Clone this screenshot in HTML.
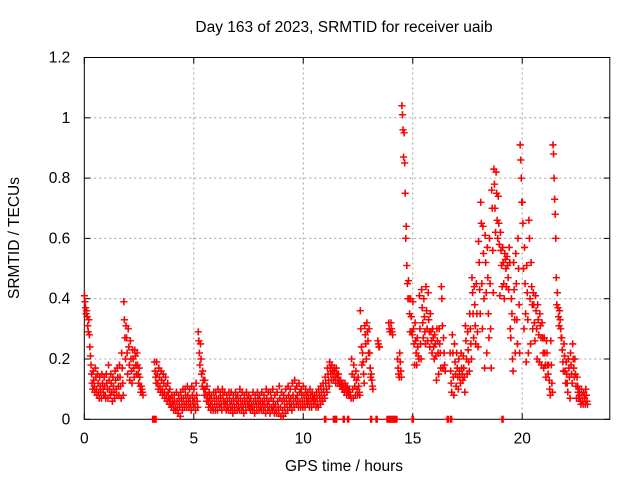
<!DOCTYPE html>
<html><head><meta charset="utf-8"><style>
body{margin:0;background:#fff;}
svg text{font-family:"Liberation Sans",sans-serif;font-size:15.5px;fill:#000;}
</style></head><body>
<svg id="chart" width="640" height="480" viewBox="0 0 640 480" xmlns="http://www.w3.org/2000/svg">
<rect width="640" height="480" fill="#fff"/>
<text x="344" y="32" text-anchor="middle">Day 163 of 2023, SRMTID for receiver uaib</text>
<text transform="translate(19,238) rotate(-90)" text-anchor="middle">SRMTID / TECUs</text>
<text x="344" y="471" text-anchor="middle">GPS time / hours</text>
<g id="grid"></g><g id="axes"></g><g id="marks"></g>
</svg>
<script>
const xTicks=[0,5,10,15,20];
const yTicks=[0,0.2,0.4,0.6,0.8,1.0,1.2];
const yTickLabels=["0","0.2","0.4","0.6","0.8","1","1.2"];
const startHour=0.0;
const srmtid=[
[.41,.39,.37,.35],[.36,.34,.31,.29],[.33,.28,.24,.21],[.18,.15,.12,.10],[.16,.13,.11,.09],[.17,.14,.10,.08],[.15,.12,.09,.07],[.14,.11,.09,.07],[.15,.12,.10,.08],[.14,.11,.08,.07],
[.15,.12,.10,.07],[.18,.13,.10,.08],[.15,.12,.09,.06],[.14,.11,.09,.07],[.16,.13,.10,.08],[.17,.14,.11,.08],[.18,.14,.11,.07],[.22,.17,.12,.08],[.39,.33,.27,.20],[.31,.27,.22,.15],
[.30,.24,.18,.13],[.26,.20,.16,.12],[.23,.20,.17,.14],[.23,.21,.18,.15],[.22,.18,.15,.12],[.17,.14,.11,.09],[.11,.10,.09,.08],null,null,null,
null,null,[.19,.16,.14,.12],[.19,.15,.12,.10],[.17,.14,.11,.09],[.16,.13,.10,.08],[.15,.12,.09,.07],[.14,.11,.08,.06],[.12,.09,.07,.05],[.10,.07,.05,.04],
[.08,.06,.05,.03],[.08,.06,.04,.03],[.09,.06,.04,.02],[.08,.06,.04,.01],[.09,.07,.05,.03],[.10,.07,.05,.04],[.10,.08,.06,.04],[.11,.08,.06,.04],[.10,.07,.05,.03],[.11,.08,.06,.04],
[.10,.07,.05,.03],[.12,.08,.06,.04],[.29,.26,.22,.18],[.25,.20,.15,.11],[.16,.13,.10,.08],[.13,.10,.08,.06],[.11,.08,.06,.04],[.09,.07,.05,.03],[.08,.06,.04,.03],[.09,.07,.05,.03],
[.09,.07,.05,.03],[.10,.07,.05,.04],[.09,.07,.05,.03],[.10,.08,.06,.04],[.09,.06,.05,.03],[.08,.06,.04,.03],[.09,.07,.05,.03],[.09,.06,.04,.02],[.08,.06,.04,.03],[.09,.07,.05,.03],
[.08,.06,.04,.03],[.10,.07,.05,.03],[.09,.06,.04,.02],[.08,.06,.05,.03],[.09,.07,.05,.04],[.08,.06,.04,.03],[.07,.05,.04,.03],[.09,.06,.04,.02],[.08,.06,.05,.03],[.09,.07,.05,.03],
[.08,.06,.04,.03],[.09,.06,.05,.03],[.08,.06,.04,.02],[.10,.07,.05,.03],[.09,.06,.04,.02],[.09,.07,.04,.03],[.10,.06,.04,.02],[.08,.05,.03,.02],[.09,.06,.04,.02],[.11,.07,.04,.01],
[.09,.06,.03,.01],[.08,.06,.04,.02],[.10,.07,.05,.03],[.11,.08,.06,.04],[.10,.07,.05,.03],[.12,.08,.06,.04],[.13,.10,.07,.05],[.11,.08,.06,.04],[.12,.09,.06,.04],[.10,.08,.06,.04],
[.11,.08,.06,.04],[.10,.08,.06,.05],[.09,.07,.06,.04],[.10,.08,.06,.04],[.09,.07,.06,.05],[.08,.07,.06,.04],[.09,.07,.05,.04],[.10,.08,.07,.05],[.11,.09,.07,.06],[.12,.10,.08,.07],
[.14,.12,.10,.09],[.17,.15,.13,.11],[.19,.17,.15,.13],[.18,.16,.15,.13],[.17,.16,.14,.12],[.17,.15,.14,.12],[.15,.13,.12,.11],[.13,.12,.11,.10],[.12,.11,.10,.09],[.12,.11,.10,.08],
[.11,.10,.09,.08],[.10,.09,.08,.07],[.20,.15,.10,.07],[.18,.14,.11,.08],[.16,.13,.10,.08],[.14,.11,.09,.08],[.36,.30,.24,.18],[.22,.19,.15,.12],[.31,.28,.25,.20],[.32,.29,.26,.22],
[.30,.22,.17,.14],[.15,.13,.11,.10],null,null,[.26,.25,.24,.24],null,null,null,null,[.32,.30,.29,.29],
[.32,.30,.29,.28],null,null,[.20,.17,.15,.14],[.22,.19,.16,.14],[1.04,1.01,.96,.87],[.95,.85,.75,.60],[.64,.51,.45,.40],[.46,.40,.35,.29],[.40,.34,.29,.28],
[.39,.30,.25,.18],[.32,.26,.22,.18],[.27,.24,.21,.20],[.41,.30,.25,.20],[.43,.37,.32,.27],[.40,.34,.29,.25],[.44,.36,.30,.26],[.42,.33,.29,.24],[.35,.29,.26,.22],[.30,.27,.24,.20],
[.28,.25,.21,.13],[.30,.26,.22,.15],[.30,.25,.22,.17],[.44,.40,.31,.17],[.27,.22,.18,.16],null,null,[.22,.16,.12,.09],[.28,.22,.14,.08],[.25,.19,.15,.11],
[.22,.17,.14,.10],[.20,.16,.14,.12],[.22,.17,.15,.13],[.21,.17,.14,.09],[.31,.26,.20,.15],[.29,.23,.19,.16],[.35,.30,.25,.20],[.47,.42,.35,.27],[.44,.38,.31,.25],[.45,.35,.29,.24],
[.59,.52,.43,.35],[.72,.65,.45,.30],[.64,.55,.40,.17],[.61,.52,.42,.22],[.57,.47,.35,.27],[.60,.45,.30,.17],[.76,.70,.56,.42],[.83,.78,.70,.62],[.82,.75,.66,.60],[.74,.65,.58,.41],
[.62,.56,.51,.44],[.57,.52,.45,.40],[.55,.53,.50,.44],[.54,.51,.47,.43],[.57,.52,.30,.27],[.40,.35,.20,.16],[.52,.43,.33,.22],[.55,.45,.33,.25],[.60,.50,.38,.22],[.91,.86,.80,.72],
[.72,.65,.50,.30],[.57,.45,.35,.19],[.51,.42,.33,.22],[.66,.60,.40,.25],[.52,.44,.38,.30],[.42,.38,.32,.26],[.41,.36,.30,.20],[.38,.33,.28,.19],[.35,.31,.27,.18],[.32,.27,.22,.17],
[.27,.22,.18,.14],[.26,.22,.18,.15],[.18,.13,.10,.08],[.26,.18,.12,.09],[.91,.88,.80,.73],[.68,.60,.47,.38],[.42,.37,.34,.31],[.36,.33,.30,.27],[.27,.23,.19,.16],[.25,.21,.16,.12],
[.19,.15,.12,.09],[.20,.17,.14,.07],[.22,.18,.15,.12],[.25,.20,.17,.14],[.20,.15,.11,.07],[.14,.11,.09,.07],[.10,.08,.06,.05],[.10,.08,.06,.05],[.09,.08,.07,.05],[.10,.08,.06,.05]
];
const zeroTimes=[3.15,3.25,11.0,11.4,11.5,11.85,12.05,13.1,13.35,13.85,13.95,14.05,14.15,14.25,15.0,16.6,16.75,19.1];

const L=84.3,R=609.8,T=57.5,B=419.3,XMAX=24,YMAX=1.2;
const xs=t=>L+(R-L)*t/XMAX;
const ys=v=>B-(B-T)*v/YMAX;
const NS="http://www.w3.org/2000/svg";
const mk=(tag,attrs,parent)=>{const e=document.createElementNS(NS,tag);for(const k in attrs)e.setAttribute(k,attrs[k]);parent.appendChild(e);return e;};
const grid=document.getElementById('grid'),axes=document.getElementById('axes'),marks=document.getElementById('marks');

yTicks.forEach((v,i)=>{
  const y=ys(v);
  if(v>0&&v<YMAX){const g=mk('line',{x1:L,x2:R,y1:y,y2:y,stroke:'#a0a0a0','stroke-width':1,'stroke-dasharray':'2,3'},grid);
  
  }
  mk('line',{x1:L,x2:L+6,y1:y,y2:y,stroke:'#000'},axes);
  mk('line',{x1:R-6,x2:R,y1:y,y2:y,stroke:'#000'},axes);
  const tx=mk('text',{x:L-14,y:y+5,'text-anchor':'end'},axes);
  tx.textContent=yTickLabels[i];
  
  
});
xTicks.forEach(t=>{
  const x=xs(t);
  if(t>0){const g=mk('line',{x1:x,x2:x,y1:T,y2:B,stroke:'#a0a0a0','stroke-width':1,'stroke-dasharray':'2,3'},grid);
  
  }
  mk('line',{x1:x,x2:x,y1:B-6,y2:B,stroke:'#000'},axes);
  mk('line',{x1:x,x2:x,y1:T,y2:T+6,stroke:'#000'},axes);
  const tx=mk('text',{x:x,y:B+24,'text-anchor':'middle'},axes);
  tx.textContent=String(t);
  
  
});
const frame=mk('rect',{x:L,y:T,width:R-L,height:B-T,fill:'none',stroke:'#000','stroke-width':1},axes);



function plus(t,v){
  const x=xs(t),y=ys(v);
  const p=mk('path',{d:`M${x-3.5},${y}h7M${x},${y-3.5}v7`,stroke:'#f00','stroke-width':1.3,fill:'none'},marks);
  
  
}
srmtid.forEach((vals,i)=>{
  if(!vals)return;
  const t=startHour+i*0.1;
  vals.forEach((v,k)=>{ if(v!=null){ plus(t+k*0.025,v); plus(t+k*0.025+0.0125,v); } });
});
zeroTimes.forEach(t=>{ plus(t-0.03,0); plus(t,0); plus(t+0.03,0); });
</script>
</body></html>
